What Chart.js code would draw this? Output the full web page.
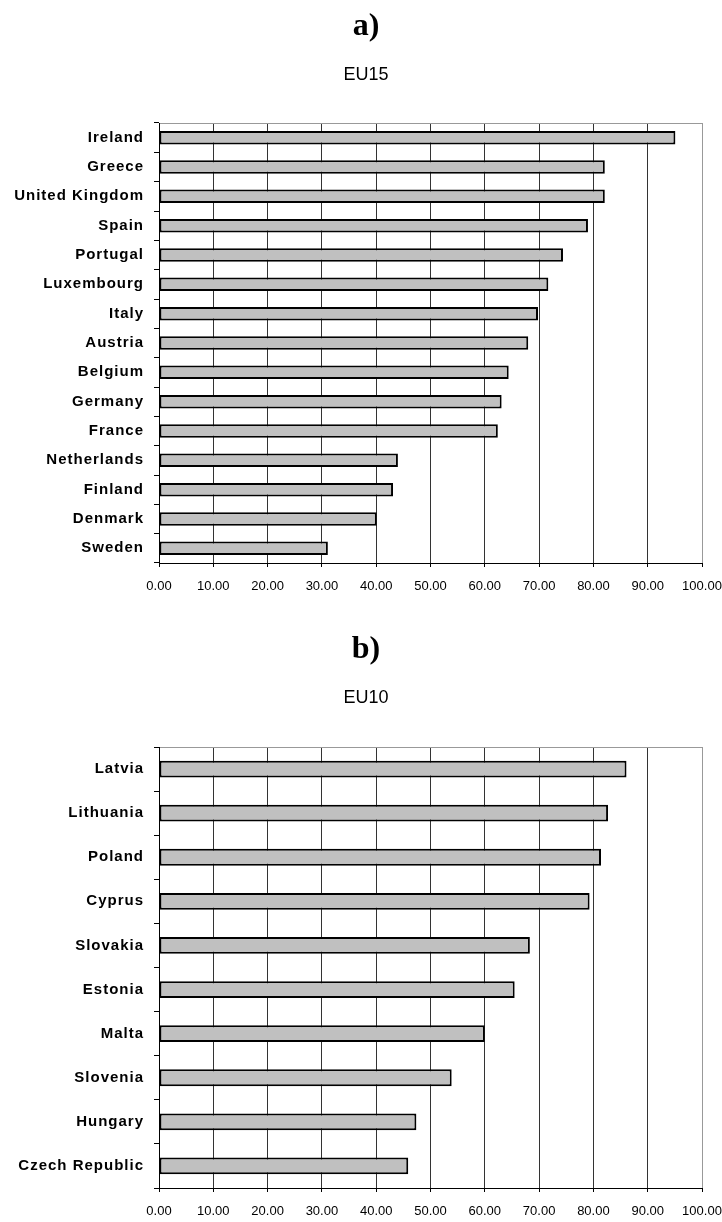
<!DOCTYPE html>
<html>
<head>
<meta charset="utf-8">
<script src="https://cdn.jsdelivr.net/npm/chart.js@4.4.0/dist/chart.umd.min.js"></script>
<style>
    body { margin: 0; background: #fff; }
    .box { position: absolute; left: 0; width: 722px; }
</style>
</head>
<body>
<div class="box" style="top:0; height:600px;"><canvas id="chartA"></canvas></div>
<div class="box" style="top:610px; height:612px;"><canvas id="chartB"></canvas></div>
<script>
const eu15Countries = ['Ireland', 'Greece', 'United Kingdom', 'Spain', 'Portugal', 'Luxembourg', 'Italy',
    'Austria', 'Belgium', 'Germany', 'France', 'Netherlands', 'Finland', 'Denmark', 'Sweden'];
const eu15Values = [95.1, 82.1, 82.1, 79.0, 74.4, 71.7, 69.8, 68.0, 64.4, 63.1, 62.4, 44.0, 43.1, 40.1, 31.1];

const eu10Countries = ['Latvia', 'Lithuania', 'Poland', 'Cyprus', 'Slovakia', 'Estonia', 'Malta',
    'Slovenia', 'Hungary', 'Czech Republic'];
const eu10Values = [86.1, 82.7, 81.4, 79.3, 68.3, 65.5, 60.0, 53.9, 47.4, 45.9];

const axisMin = 0;
const axisMax = 100;
const axisStep = 10;

class SpacedCategoryScale extends Chart.CategoryScale {
    static id = 'spacedCategory';
    static defaults = Chart.CategoryScale.defaults;
    drawLabels(chartArea) {
        const ctx = this.ctx;
        ctx.save();
        ctx.letterSpacing = '1px';
        super.drawLabels(chartArea);
        ctx.restore();
    }
}
Chart.register(SpacedCategoryScale);

const sans = "'Liberation Sans', Arial, sans-serif";

function makeChart(id, letter, group, labels, values, opts) {
    const ctx = document.getElementById(id).getContext('2d');
    return new Chart(ctx, {
        type: 'bar',
        data: {
            labels: labels,
            datasets: [{
                data: values,
                backgroundColor: '#c0c0c0',
                borderColor: '#000',
                borderWidth: 2,
                borderSkipped: false,
                barPercentage: opts.barPct,
                categoryPercentage: 1
            }]
        },
        options: {
            indexAxis: 'y',
            responsive: true,
            maintainAspectRatio: false,
            animation: false,
            layout: { padding: { left: 10, right: 0, top: 0, bottom: opts.padBottom } },
            plugins: {
                legend: { display: false },
                tooltip: { enabled: false },
                title: {
                    display: true,
                    text: letter,
                    color: '#000',
                    font: { family: "'Liberation Serif', 'Times New Roman', serif", size: 32, weight: 'bold' },
                    padding: { top: opts.titleTop, bottom: 0 }
                },
                subtitle: {
                    display: true,
                    text: group,
                    color: '#000',
                    font: { family: sans, size: 18 },
                    padding: { top: opts.subTop, bottom: opts.subBottom }
                }
            },
            scales: {
                x: {
                    position: 'bottom',
                    min: axisMin,
                    max: axisMax,
                    ticks: {
                        stepSize: axisStep,
                        color: '#000',
                        padding: 12,
                        maxRotation: 0,
                        font: { family: sans, size: 13 },
                        callback: v => Number(v).toFixed(2)
                    },
                    grid: {
                        color: c => (c.tick && c.tick.value === axisMax) ? '#999' : '#333',
                        lineWidth: 1,
                        tickLength: 4,
                        tickColor: '#000'
                    },
                    border: { color: '#000', width: 1 },
                    afterFit: s => { s.height = 30; s.paddingRight = 20; }
                },
                xTop: {
                    position: 'top',
                    min: axisMin,
                    max: axisMax,
                    ticks: { display: false },
                    grid: { display: false },
                    border: { display: true, color: '#999', width: 1 },
                    afterFit: s => { s.height = 0; }
                },
                y: {
                    type: 'spacedCategory',
                    offset: true,
                    ticks: {
                        color: '#000',
                        padding: 10,
                        font: { family: sans, size: 15, weight: 'bold' }
                    },
                    grid: {
                        offset: true,
                        drawOnChartArea: false,
                        tickLength: 5,
                        color: '#000'
                    },
                    border: { color: '#000', width: 1 },
                    afterFit: s => { s.width = 149; }
                }
            }
        }
    });
}

makeChart('chartA', 'a)', 'EU15', eu15Countries, eu15Values,
    { barPct: 0.46, titleTop: 8, subTop: 18, subBottom: 37, padBottom: 7 });
makeChart('chartB', 'b)', 'EU10', eu10Countries, eu10Values,
    { barPct: 0.38, titleTop: 21, subTop: 18, subBottom: 38, padBottom: 4 });
</script>
</body>
</html>
